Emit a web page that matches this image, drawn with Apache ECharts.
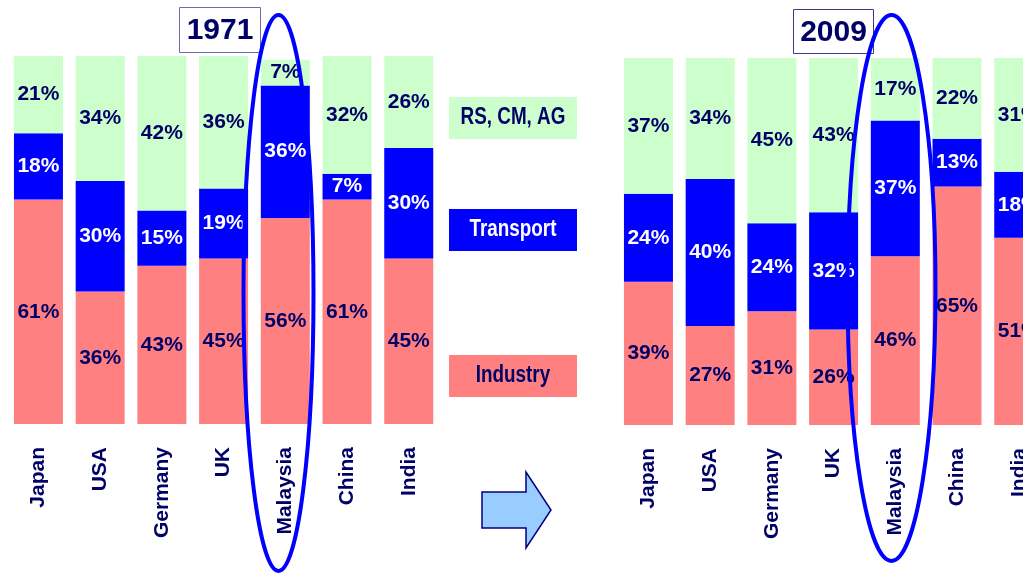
<!DOCTYPE html>
<html>
<head>
<meta charset="utf-8">
<title>Final energy consumption by sector, 1971 and 2009</title>
<script src="https://cdn.jsdelivr.net/npm/echarts@6/dist/echarts.min.js"></script>
<style>
  html, body { margin: 0; padding: 0; background: #ffffff; }
  #chart { width: 1023px; height: 573px; }
</style>
</head>
<body>
<div id="chart"></div>
<script>
// Countries and sector shares (%) of final energy consumption
const countries = ['Japan', 'USA', 'Germany', 'UK', 'Malaysia', 'China', 'India'];
const years = ['1971', '2009'];
const sectorNames = ['RS, CM, AG', 'Transport', 'Industry'];

const industry1971  = [61, 36, 43, 45, 56, 61, 45];
const transport1971 = [18, 30, 15, 19, 36, 7, 30];
const other1971     = [21, 34, 42, 36, 7, 32, 26];

const industry2009  = [39, 27, 31, 26, 46, 65, 51];
const transport2009 = [24, 40, 24, 32, 37, 13, 18];
const other2009     = [37, 34, 45, 43, 17, 22, 31];

// Styling
const NAVY = '#000066';
const COLORS = { other: '#CCFFCC', transport: '#0000FF', industry: '#FF8080' };
const FONT = 'Arial';

function barSeries(name, data, gridIdx, color, textColor) {
  return {
    name: name,
    type: 'bar',
    stack: 'y' + gridIdx,
    xAxisIndex: gridIdx,
    yAxisIndex: gridIdx,
    barWidth: 49,
    data: data,
    itemStyle: { color: color },
    label: {
      show: true,
      position: 'inside',
      formatter: '{c}%',
      color: textColor,
      fontFamily: FONT,
      fontWeight: 'bold',
      fontSize: 21
    }
  };
}

function catAxis(gridIdx) {
  return {
    type: 'category',
    gridIndex: gridIdx,
    data: countries,
    axisLine: { show: false },
    axisTick: { show: false },
    axisLabel: {
      rotate: 90,
      margin: 23,
      color: NAVY,
      fontFamily: FONT,
      fontWeight: 'bold',
      fontSize: 21
    }
  };
}

function valAxis(gridIdx) {
  return {
    type: 'value',
    gridIndex: gridIdx,
    min: 0,
    max: 100,
    show: false,
    splitLine: { show: false }
  };
}

// Sector key boxes drawn between the two panels
const keyBoxes = [
  { name: sectorNames[0], top: 97,  fill: COLORS.other,     text: NAVY },
  { name: sectorNames[1], top: 209, fill: COLORS.transport, text: '#FFFFFF' },
  { name: sectorNames[2], top: 355, fill: COLORS.industry,  text: NAVY }
];

const graphics = [];
keyBoxes.forEach(function (k) {
  graphics.push({
    type: 'rect',
    shape: { x: 449, y: k.top, width: 128, height: 42 },
    style: { fill: k.fill },
    z: 10
  });
  // condensed lettering: regular bold face squeezed horizontally
  graphics.push({
    type: 'text',
    x: 513, y: k.top + 21,
    scaleX: 0.82,
    style: {
      text: k.name,
      fill: k.text,
      font: 'bold 23px ' + FONT,
      align: 'center',
      verticalAlign: 'middle'
    },
    z: 11
  });
});

// Year boxes
[{ label: years[0], x: 179.5, y: 7.5, w: 81, h: 45, stroke: '#6B6BB0' },
 { label: years[1], x: 793.5, y: 9.5, w: 80, h: 44, stroke: '#3A3A8C' }].forEach(function (b) {
  graphics.push({
    type: 'rect',
    shape: { x: b.x, y: b.y, width: b.w, height: b.h },
    style: { fill: '#FFFFFF', stroke: b.stroke, lineWidth: 1 },
    z: 12
  });
  graphics.push({
    type: 'text',
    x: b.x + b.w / 2, y: b.y + b.h / 2 + 1,
    style: {
      text: b.label,
      fill: NAVY,
      font: 'bold 30px ' + FONT,
      align: 'center',
      verticalAlign: 'middle'
    },
    z: 13
  });
});

// Arrow from 1971 to 2009
graphics.push({
  type: 'polygon',
  shape: {
    points: [[482, 492], [526, 492], [526, 472], [551, 510], [526, 548], [526, 528], [482, 528]]
  },
  style: { fill: '#99CCFF', stroke: '#000080', lineWidth: 1.5 },
  z: 10
});

// Ellipses highlighting Malaysia in both panels
graphics.push({
  type: 'ellipse',
  shape: { cx: 278.5, cy: 293, rx: 35, ry: 278 },
  style: { fill: 'none', stroke: '#0000FF', lineWidth: 4 },
  z: 20
});
graphics.push({
  type: 'ellipse',
  shape: { cx: 891.5, cy: 288, rx: 44, ry: 273 },
  style: { fill: 'none', stroke: '#0000FF', lineWidth: 4 },
  z: 20
});

const option = {
  animation: false,
  backgroundColor: '#FFFFFF',
  grid: [
    { left: 7.6, top: 56, width: 432, height: 368, containLabel: false, outerBoundsMode: 'none' },
    { left: 617.6, top: 58, width: 432, height: 367, containLabel: false, outerBoundsMode: 'none' }
  ],
  xAxis: [catAxis(0), catAxis(1)],
  yAxis: [valAxis(0), valAxis(1)],
  series: [
    barSeries(sectorNames[2], industry1971, 0, COLORS.industry, NAVY),
    barSeries(sectorNames[1], transport1971, 0, COLORS.transport, '#FFFFFF'),
    barSeries(sectorNames[0], other1971, 0, COLORS.other, NAVY),
    barSeries(sectorNames[2], industry2009, 1, COLORS.industry, NAVY),
    barSeries(sectorNames[1], transport2009, 1, COLORS.transport, '#FFFFFF'),
    barSeries(sectorNames[0], other2009, 1, COLORS.other, NAVY)
  ],
  graphic: graphics
};

const chart = echarts.init(document.getElementById('chart'), null, { renderer: 'canvas' });
chart.setOption(option);
</script>
</body>
</html>
